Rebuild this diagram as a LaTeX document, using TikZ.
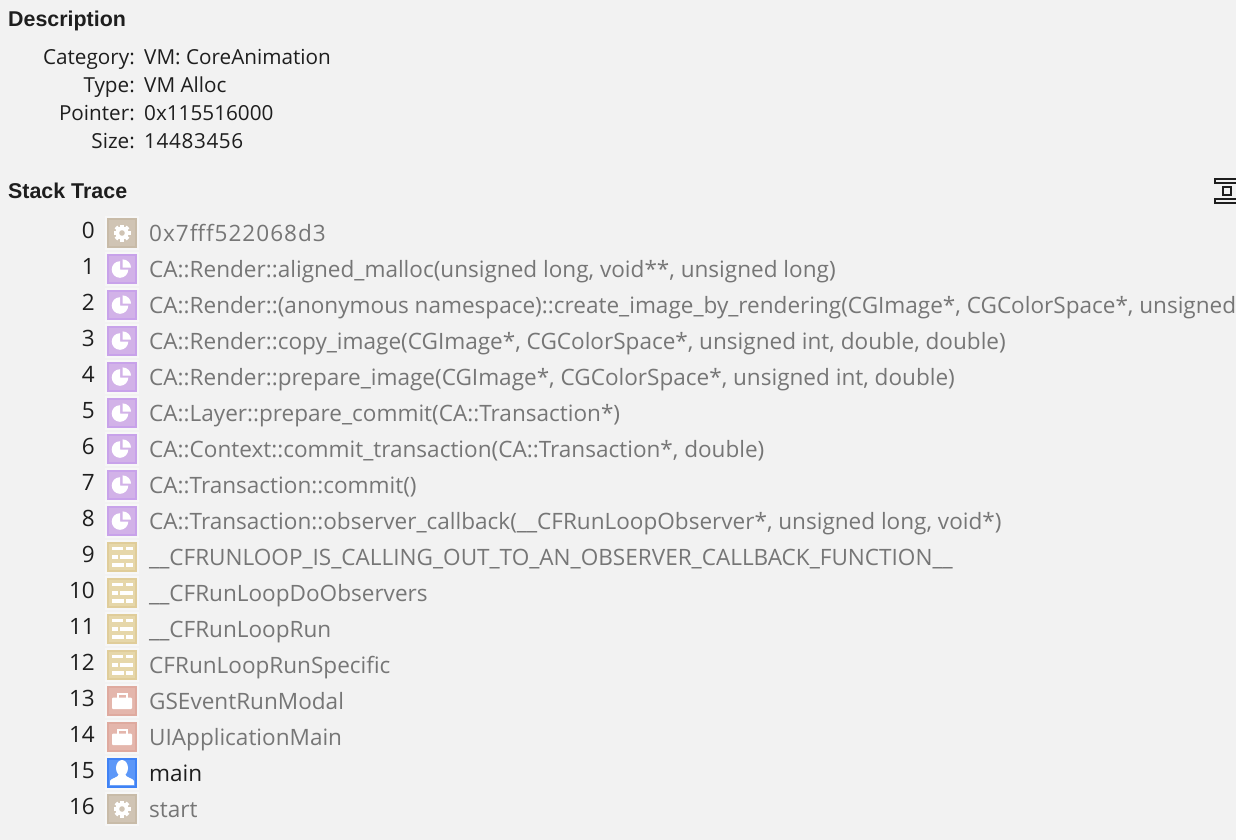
\documentclass[tikz,border=0pt]{standalone}
\usepackage{fontspec}
\setmainfont{Open Sans}
\newfontfamily\headfont{Liberation Sans}
\newcommand{\widedigits}[2]{{\addfontfeature{LetterSpace=#1}#2}}
\definecolor{panelbg}{HTML}{F2F2F2}
\definecolor{fngrey}{HTML}{767676}
\definecolor{inkdark}{HTML}{1E1E1E}
\definecolor{iconhalo}{HTML}{F7F7F7}
\definecolor{gearfill}{HTML}{D0C4B4}
\definecolor{geardraw}{HTML}{C8BBA8}
\definecolor{piefill}{HTML}{D2B2E8}
\definecolor{piedraw}{HTML}{C8A2EA}
\definecolor{brickfill}{HTML}{E6D7AA}
\definecolor{brickdraw}{HTML}{E0CD9A}
\definecolor{casefill}{HTML}{E4B6AC}
\definecolor{casedraw}{HTML}{DFAA9F}
\definecolor{userfill}{HTML}{5C97F8}
\definecolor{userdraw}{HTML}{3F82F5}
\tikzset{
    x=1pt, y=-1pt,
    heading/.style={font=\headfont\fontsize{21.4}{24}\selectfont\bfseries, text=inkdark, anchor=base west, inner sep=0pt},
    fieldname/.style={font=\fontsize{20.7}{24}\selectfont, text=inkdark, anchor=base east, inner sep=0pt},
    fieldvalue/.style={font=\fontsize{20.7}{24}\selectfont, text=inkdark, anchor=base west, inner sep=0pt},
    rownum/.style={font=\fontsize{22.5}{26}\selectfont, text=inkdark, anchor=base east, inner sep=0pt},
    fngrey/.style={font=\fontsize{22.55}{24}\selectfont, text=fngrey, anchor=base west, inner sep=0pt},
    fnmain/.style={font=\fontsize{22.55}{24}\selectfont, text=inkdark, anchor=base west, inner sep=0pt},
    iconbox/.style={minimum size=28pt, inner sep=0pt, line width=2pt, preaction={draw=iconhalo, line width=6pt}},
    gearbox/.style={iconbox, fill=gearfill, draw=geardraw},
    piebox/.style={iconbox, fill=piefill, draw=piedraw},
    brickbox/.style={iconbox, fill=brickfill, draw=brickdraw},
    casebox/.style={iconbox, fill=casefill, draw=casedraw},
    userbox/.style={iconbox, fill=userfill, draw=userdraw},
    gear/.pic={
        \foreach \toothangle in {0,45,...,315}
            \fill[white, rotate=\toothangle] (-1.8,-8.5) rectangle (1.8,0);
        \fill[white] (0,0) circle (6.5pt);
        \fill[gearfill] (0,0) circle (2.8pt);
    },
    pie/.pic={
        \fill[white] (-2,0.5) -- ++(0,-8.3) arc[start angle=90, end angle=360, radius=8.3pt] -- cycle;
        \fill[white] (0.7,-1.3) -- ++(8.3,0) arc[start angle=0, end angle=90, radius=8.3pt] -- cycle;
    },
    brick/.pic={
        \fill[white] (-10.3,-10.3) rectangle (1.3,-7);
        \fill[white] (4,-10.3) rectangle (10.7,-7);
        \fill[white] (-10.3,-2) rectangle (-3.6,2);
        \fill[white] (-2,-2) rectangle (10.7,2);
        \fill[white] (-10.3,5.5) rectangle (1.6,9.5);
        \fill[white] (4,5.5) rectangle (10.7,9.5);
    },
    case/.pic={
        \fill[white, rounded corners=1pt] (-10,-3.5) rectangle (10,8);
        \draw[white, line width=2pt] (-4.5,-3.5) -- (-4.5,-7) -- (4.5,-7) -- (4.5,-3.5);
    },
    user/.pic={
        \fill[white] (0,-5) ellipse (6pt and 8pt);
        \fill[white] (-12,12) -- (-12,8) .. controls (-11,5) and (-4,5) .. (-3,1)
            -- (3,1) .. controls (4,5) and (11,5) .. (12,8) -- (12,12) -- cycle;
    }
}
\begin{document}
\begin{tikzpicture}
    \clip (0,0) rectangle (1236,840);
    \fill[panelbg] (0,0) rectangle (1236,840);
    % description block
    \node[heading] (desc) at (8,26.5) {Description};
    \node[fieldname] (catname) at (135,64.5) {Category:};
    \node[fieldvalue] (catvalue) at (144,64.5) {VM: CoreAnimation};
    \node[fieldname] (typename) at (135,92.5) {Type:};
    \node[fieldvalue] (typevalue) at (144,92.5) {VM Alloc};
    \node[fieldname] (ptrname) at (135,120.5) {Pointer:};
    \node[fieldvalue] (ptrvalue) at (144,120.5) {0x115516000};
    \node[fieldname] (sizename) at (135,148.5) {Size:};
    \node[fieldvalue] (sizevalue) at (144,148.5) {\widedigits{3}{14483456}};
    % stack trace block
    \node[heading] (trace) at (8,198) {Stack Trace};
    \draw[inkdark, line width=2pt] (1240,179) -- (1215,179) -- (1215,183) -- (1240,183);
    \draw[inkdark, line width=2pt] (1223,187) rectangle (1231,195);
    \draw[inkdark, line width=2pt] (1240,199) -- (1215,199) -- (1215,203) -- (1240,203);
    \foreach \rowid/\rowicon/\rowstyle/\rowtext in {
        0/gear/fngrey/{\widedigits{4.4}{0x7fff522068d3}},
        1/pie/fngrey/{CA::Render::aligned\_malloc(unsigned long, void**, unsigned long)},
        2/pie/fngrey/{CA::Render::(anonymous namespace)::create\_image\_by\_rendering(CGImage*, CGColorSpace*, unsigned},
        3/pie/fngrey/{CA::Render::copy\_image(CGImage*, CGColorSpace*, unsigned int, double, double)},
        4/pie/fngrey/{CA::Render::prepare\_image(CGImage*, CGColorSpace*, unsigned int, double)},
        5/pie/fngrey/{CA::Layer::prepare\_commit(CA::Transaction*)},
        6/pie/fngrey/{CA::Context::commit\_transaction(CA::Transaction*, double)},
        7/pie/fngrey/{CA::Transaction::commit()},
        8/pie/fngrey/{CA::Transaction::observer\_callback(\_\_CFRunLoopObserver*, unsigned long, void*)},
        9/brick/fngrey/{\_\_CFRUNLOOP\_IS\_CALLING\_OUT\_TO\_AN\_OBSERVER\_CALLBACK\_FUNCTION\_\_},
        10/brick/fngrey/{\_\_CFRunLoopDoObservers},
        11/brick/fngrey/{\_\_CFRunLoopRun},
        12/brick/fngrey/{CFRunLoopRunSpecific},
        13/case/fngrey/{GSEventRunModal},
        14/case/fngrey/{UIApplicationMain},
        15/user/fnmain/{main},
        16/gear/fngrey/{start}}{
        \pgfmathsetmacro{\rowy}{233+36*\rowid}
        \node[rownum] (num\rowid) at (95,\rowy+5.5) {\rowid};
        \node[\rowicon box] (icon\rowid) at (122,\rowy) {};
        \pic at (icon\rowid) {\rowicon};
        \node[\rowstyle] (fn\rowid) at (149,\rowy+8.3) {\rowtext};
    }
\end{tikzpicture}
\end{document}
